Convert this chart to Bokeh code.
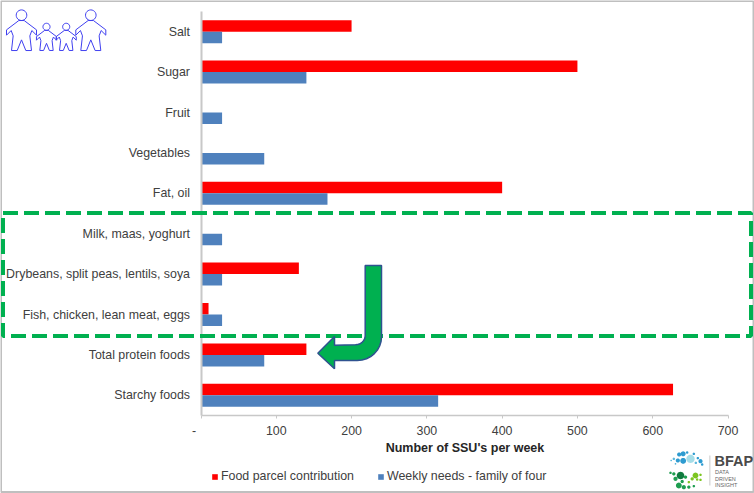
import numpy as np
from bokeh.plotting import figure
from bokeh.embed import file_html
from bokeh.resources import INLINE
from bokeh.models import (ColumnDataSource, Range1d, FixedTicker, Legend, LegendItem,
                          BoxAnnotation, PolyAnnotation, Label)
from bokeh.transform import dodge

categories = ["Salt", "Sugar", "Fruit", "Vegetables", "Fat, oil", "Milk, maas, yoghurt",
              "Drybeans, split peas, lentils, soya", "Fish, chicken, lean meat, eggs",
              "Total protein foods", "Starchy foods"]
parcel = [200, 500, 0, 0, 400, 0, 130, 10, 140, 627]
needs = [28, 140, 28, 84, 168, 28, 28, 28, 84, 315]
x_ticks = [0, 100, 200, 300, 400, 500, 600, 700]

RED = "#FF0000"
BLUE = "#4F81BD"
GREEN = "#00B050"
TXT = "#404040"
GRAY = "#C8C8C8"

W, H = 754, 493
# the frame fills the whole canvas so that decorations are not clipped
PX_X = 527 / 700
PX_Y = 40.4
X0, Y0 = 200.5, 31.2
idx = list(range(len(categories)))

p = figure(width=W, height=H, output_backend="svg", toolbar_location=None,
           x_range=Range1d(-X0 / PX_X, (W - X0) / PX_X),
           y_range=Range1d((H - Y0) / PX_Y, -Y0 / PX_Y),
           min_border=0, margin=(0, 0, 0, 0))
p.outline_line_color = None
p.grid.visible = False

src = ColumnDataSource(dict(idx=idx, parcel=parcel, needs=needs))
r1 = p.hbar(y=dodge("idx", -0.142), right="parcel", left=0, height=0.285,
            source=src, fill_color=RED, line_color=None)
r2 = p.hbar(y=dodge("idx", 0.142), right="needs", left=0, height=0.285,
            source=src, fill_color=BLUE, line_color=None)

ax = p.xaxis[0]
ax.fixed_location = 9.5
ax.bounds = (0, 700)
ax.ticker = FixedTicker(ticks=x_ticks)
ax.major_label_overrides = {0: "-    "}
ax.axis_label = "Number of SSU's per week"
ax.axis_label_text_font = "Liberation Sans"
ax.axis_label_text_font_style = "bold"
ax.axis_label_text_font_size = "12.5px"
ax.axis_label_text_color = "#262626"
ax.axis_label_standoff = 0
ax.major_label_text_font = "Liberation Sans"
ax.major_label_text_font_size = "12.4px"
ax.major_label_text_color = TXT
ax.major_label_standoff = 5
ax.axis_line_color = GRAY
ax.axis_line_width = 1.5
ax.major_tick_line_color = GRAY
ax.major_tick_out = 3
ax.major_tick_in = 0
ax.minor_tick_line_color = None

ay = p.yaxis[0]
ay.fixed_location = 0
ay.bounds = (-0.5, 9.5)
ay.ticker = FixedTicker(ticks=idx)
ay.major_label_overrides = dict(zip(idx, categories))
ay.major_label_text_font = "Liberation Sans"
ay.major_label_text_font_size = "12.4px"
ay.major_label_text_color = TXT
ay.major_label_standoff = 11
ay.axis_line_color = GRAY
ay.axis_line_width = 2
ay.major_tick_line_color = None
ay.major_tick_out = 0
ay.major_tick_in = 0
ay.minor_tick_line_color = None

legend = Legend(items=[LegendItem(label="Food parcel contribution", renderers=[r1]),
                       LegendItem(label="Weekly needs - family of four", renderers=[r2])],
                orientation="horizontal", location=(211, 10),
                glyph_width=7, glyph_height=7, spacing=23, label_standoff=3,
                padding=2, margin=0, border_line_color=None, background_fill_alpha=0,
                label_text_font="Liberation Sans", label_text_font_size="12.4px",
                label_text_color=TXT)
p.add_layout(legend, "center")


def poly(xs, ys, **kw):
    p.add_layout(PolyAnnotation(xs=[float(v) for v in xs], ys=[float(v) for v in ys],
                                xs_units="canvas", ys_units="canvas", **kw))


def disc(cx, cy, r, **kw):
    t = np.linspace(0, 2 * np.pi, 25)[:-1]
    poly(cx + r * np.cos(t), cy + r * np.sin(t), **kw)


# picture frame
p.add_layout(BoxAnnotation(left=0.5, right=753, top=0.5, bottom=491.5,
                           left_units="canvas", right_units="canvas", top_units="canvas", bottom_units="canvas",
                           fill_alpha=0, line_color="#BFBFBF", line_alpha=1, line_width=2))

# dashed highlight box
p.add_layout(BoxAnnotation(left=2.5, right=750.5, top=212.5, bottom=335.5,
                           left_units="canvas", right_units="canvas", top_units="canvas", bottom_units="canvas",
                           fill_alpha=0, line_color=GREEN, line_alpha=1, line_width=4, line_dash="15 6"))

# bent arrow
ang = np.linspace(0, np.pi / 2, 9)
outer_x = 356.7 + 24.3 * np.cos(ang)
outer_y = 336.5 + 23.5 * np.sin(ang)
inner_x = 355 + 9.7 * np.cos(ang[::-1])
inner_y = 335 + 9.3 * np.sin(ang[::-1])
arrow_xs = [364.7, 381] + list(outer_x) + [334, 334, 317.3, 334, 334] + list(inner_x) + [364.7]
arrow_ys = [265, 265] + list(outer_y) + [360, 368.3, 352.7, 336, 344.7] + list(inner_y) + [265]
poly(arrow_xs, arrow_ys, fill_color=GREEN, fill_alpha=1, line_color="#2F528F", line_alpha=1, line_width=1.5)

# family icon
tx = np.array([-8, -45, -45, -31, -25, -30, -13, 0, 13, 30, 25, 31, 45, 45, 8]) / 3
ty = np.array([16, 44, 60, 46, 62, 106, 106, 74, 106, 106, 62, 46, 60, 44, 16]) / 3
ICON = dict(fill_alpha=0, line_color="#4040F0", line_alpha=1, line_width=1)
for cx, cy, s in [(21, 14.7, 1), (90.3, 14.7, 1), (46, 26.3, 0.67), (65.7, 26.3, 0.67)]:
    poly(cx + tx * s, cy + ty * s, **ICON)
    disc(cx, cy, 5.3 * s, **ICON)

# BFAP logo
logo = [(86, 27, 5, "#2E9BD0"), (98, 25, 6, "#2E9BD0"), (110, 21, 3, "#2E9BD0"), (82, 45, 5, "#2E9BD0"),
        (98, 46, 7, "#2E9BD0"), (70, 40, 3, "#5DB8DC"), (62, 45, 2, "#5DB8DC"), (130, 25, 3, "#2E9BD0"),
        (142, 38, 3, "#2E9BD0"), (150, 47, 5, "#2E9BD0"), (155, 57, 3, "#2E9BD0"), (136, 52, 3, "#5DB8DC"),
        (75, 55, 2, "#5DB8DC"), (120, 40, 10, "#A5DDE8"),
        (90, 90, 9, "#0F7A3E"), (70, 85, 4, "#1E9E50"), (60, 82, 3, "#1E9E50"), (105, 95, 4, "#1E9E50"),
        (75, 100, 5, "#1E9E50"), (85, 120, 7, "#1E9E50"), (100, 125, 5, "#1E9E50"), (115, 125, 4, "#1E9E50"),
        (130, 122, 3, "#1E9E50"), (95, 108, 4, "#1E9E50"),
        (135, 90, 7, "#7CC520"), (150, 88, 3, "#7CC520"), (125, 100, 4, "#7CC520"), (115, 110, 3, "#7CC520"),
        (150, 103, 3, "#7CC520"), (140, 102, 3, "#7CC520")]
for zx, zy, zr, c in logo:
    disc(650 + zx / 3, 445 + zy / 3, zr / 3 * 1.25, fill_color=c, fill_alpha=1, line_color=None)
poly([709, 709.8, 709.8, 709], [455, 455, 485, 485], fill_color="#BBBBBB", fill_alpha=1, line_color=None)


def label(x, y, text, size, style="normal", color="#666666"):
    p.add_layout(Label(x=x, y=y, x_units="canvas", y_units="canvas", text=text,
                       text_font="Liberation Sans", text_font_size=size, text_font_style=style,
                       text_color=color, text_baseline="middle", text_align="left"))


label(714, 460, "BFAP", "14.5px", "bold", "#4A4A4A")
label(714.5, 471, "DATA", "5.5px")
label(714.5, 478, "DRIVEN", "5.5px")
label(714.5, 484, "INSIGHT", "5.5px")

open("out.html", "w").write(file_html(p, INLINE))
